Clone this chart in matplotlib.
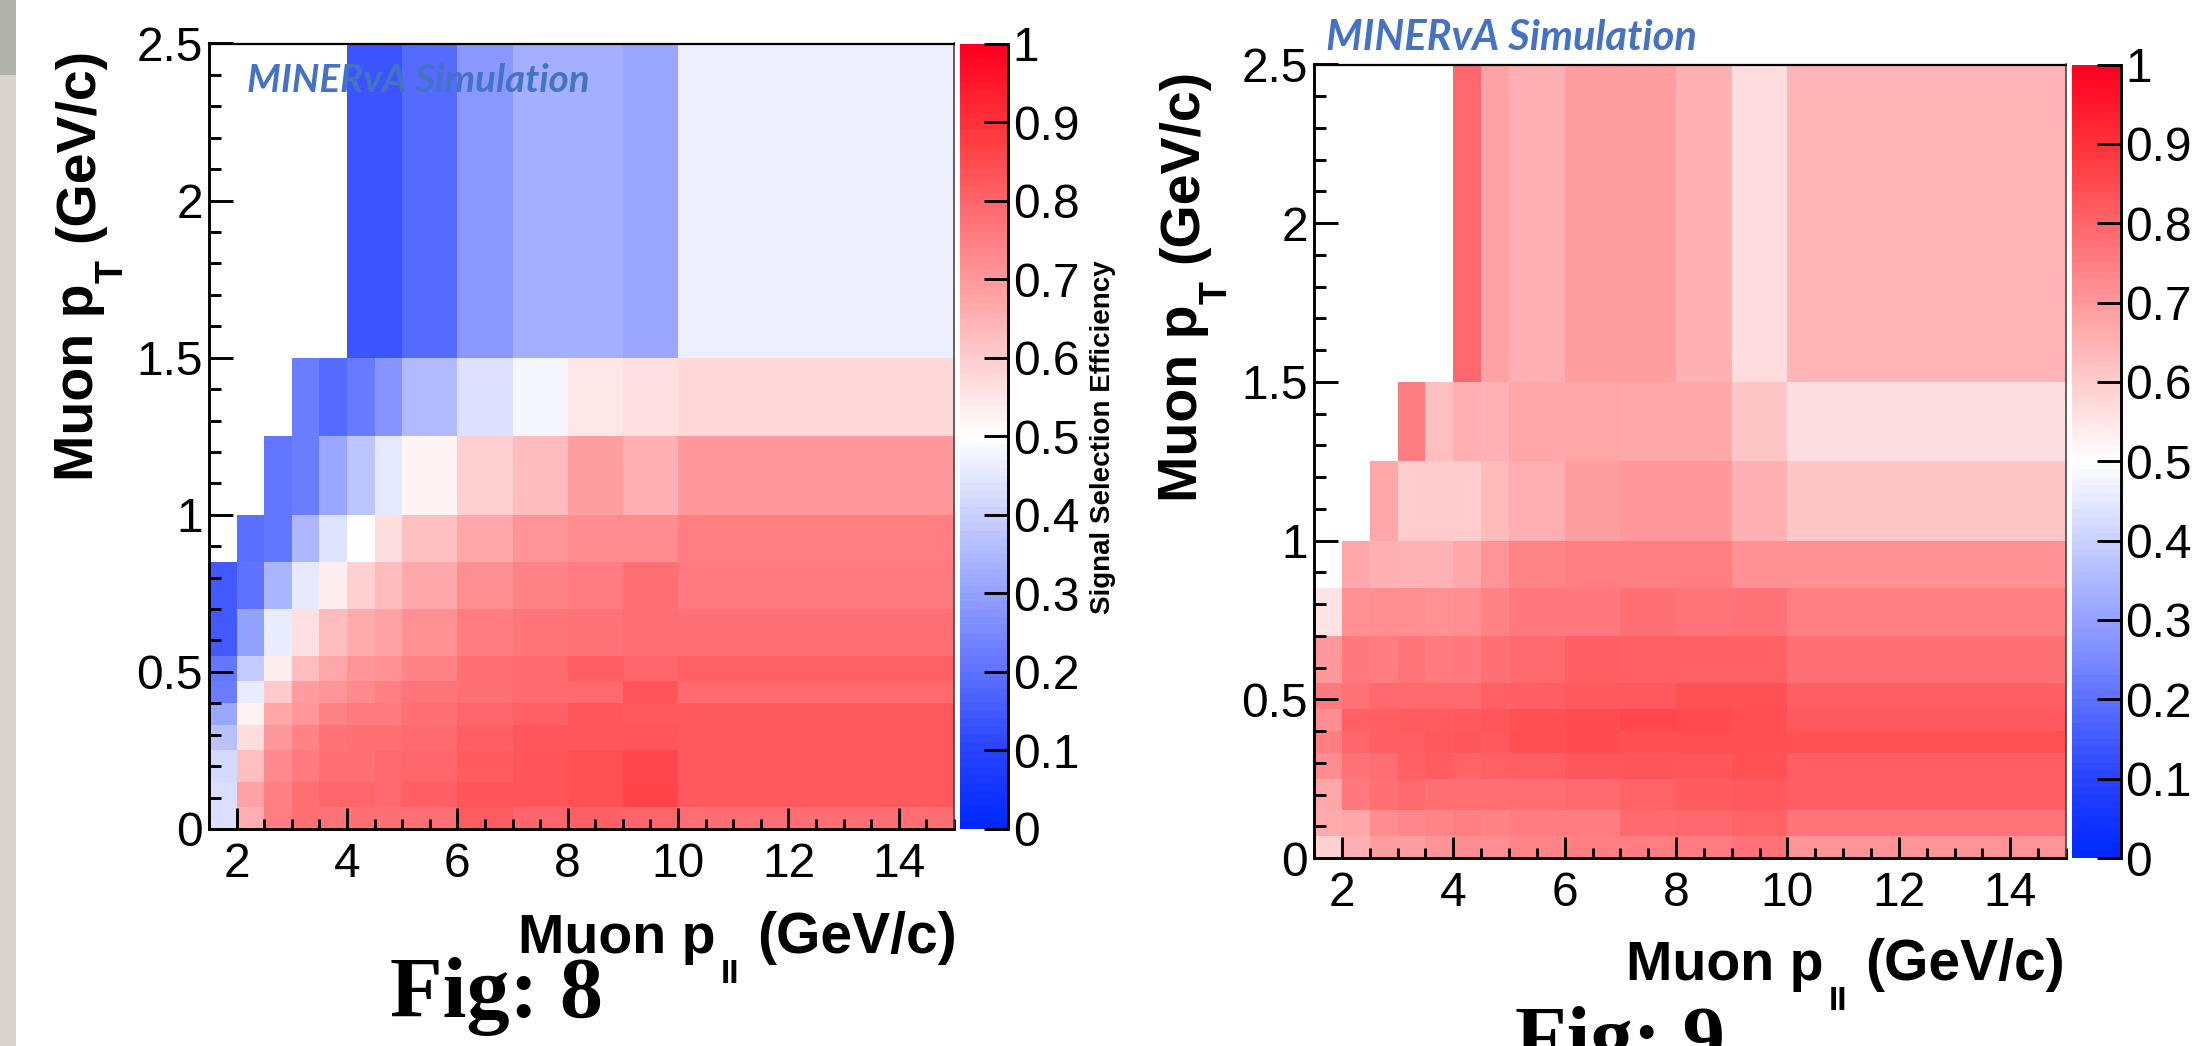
import numpy as np
import matplotlib
matplotlib.use("Agg")
import matplotlib.pyplot as plt
from matplotlib.colors import LinearSegmentedColormap, Normalize
from matplotlib.cm import ScalarMappable
from matplotlib.patches import Rectangle
from matplotlib.ticker import MultipleLocator

W, H = 2202, 1046
plt.rcParams['font.family'] = ['Liberation Sans', 'DejaVu Sans']

n = np.nan
x_edges = [1.5, 2, 2.5, 3, 3.5, 4, 4.5, 5, 6, 7, 8, 9, 10, 15]
y_edges = [0, 0.07, 0.15, 0.25, 0.33, 0.4, 0.47, 0.55, 0.7, 0.85, 1, 1.25, 1.5, 2.5]

eff_fig8 = [
    [.43, .66, .75, .78, .775, .78, .78, .78, .82, .80, .81, .80, .785],
    [.43, .68, .75, .785, .80, .80, .79, .815, .835, .835, .84, .865, .825],
    [.42, .625, .73, .76, .78, .78, .79, .80, .82, .835, .84, .86, .825],
    [.37, .57, .70, .745, .775, .78, .78, .79, .815, .83, .83, .83, .825],
    [.31, .525, .675, .705, .745, .76, .76, .78, .80, .81, .83, .825, .825],
    [.22, .46, .605, .695, .71, .73, .75, .77, .78, .79, .79, .835, .79],
    [.21, .39, .535, .63, .675, .71, .715, .745, .78, .79, .815, .80, .81],
    [.145, .30, .46, .56, .63, .665, .68, .715, .755, .77, .775, .785, .78],
    [.145, .20, .34, .455, .535, .59, .63, .67, .72, .745, .755, .78, .76],
    [n, .195, .21, .345, .44, .50, .565, .625, .67, .71, .725, .725, .75],
    [n, n, .21, .22, .31, .375, .45, .52, .595, .63, .69, .655, .70],
    [n, n, n, .22, .18, .215, .27, .355, .435, .48, .55, .56, .575],
    [n, n, n, n, n, .135, .135, .18, .28, .33, .33, .31, .465],
]
eff_fig9 = [
    [.59, .655, .69, .69, .71, .725, .72, .74, .75, .75, .755, .775, .71],
    [.665, .675, .725, .735, .74, .75, .745, .755, .755, .79, .795, .805, .77],
    [.675, .765, .78, .79, .78, .78, .78, .785, .79, .805, .82, .825, .815],
    [.725, .775, .785, .81, .82, .805, .81, .815, .83, .835, .83, .84, .815],
    [.75, .80, .815, .815, .825, .83, .825, .845, .85, .845, .845, .845, .84],
    [.72, .81, .815, .82, .82, .825, .83, .84, .85, .86, .855, .845, .825],
    [.76, .775, .795, .79, .79, .79, .81, .815, .825, .825, .84, .84, .815],
    [.70, .765, .755, .77, .76, .765, .78, .79, .815, .81, .81, .81, .78],
    [.555, .715, .72, .72, .715, .72, .745, .765, .765, .78, .77, .775, .75],
    [n, .67, .655, .65, .65, .67, .71, .74, .75, .75, .75, .715, .715],
    [n, n, .67, .60, .60, .60, .635, .66, .69, .70, .70, .655, .61],
    [n, n, n, .755, .625, .66, .65, .675, .675, .67, .67, .61, .565],
    [n, n, n, n, n, .795, .68, .655, .69, .69, .655, .57, .645],
]
x_major = [2, 4, 6, 8, 10, 12, 14]
y_major = [0, 0.5, 1, 1.5, 2, 2.5]
y_major_labels = ['0', '0.5', '1', '1.5', '2', '2.5']
cbar_ticks = [0, .1, .2, .3, .4, .5, .6, .7, .8, .9, 1]
cbar_labels = ['0', '0.1', '0.2', '0.3', '0.4', '0.5', '0.6', '0.7', '0.8', '0.9', '1']

anchors = [(0, '#0028ff'), (0.1, '#2a44ff'), (0.5, '#ffffff'), (0.9, '#ff333a'), (1, '#ff0020')]
cmap = LinearSegmentedColormap.from_list('rwb', anchors, N=256)
cmap_bar = LinearSegmentedColormap.from_list('rwb_bar', anchors, N=100)
norm = Normalize(0, 1)

fig = plt.figure(figsize=(W / 100, H / 100), dpi=100, facecolor='white')


def rect(x0, y0, x1, y1):
    return [x0 / W, 1 - y1 / H, (x1 - x0) / W, (y1 - y0) / H]


def ftext(x, y, s, **kw):
    return fig.text(x / W, 1 - y / H, s, **kw)


fig.add_artist(Rectangle((0, 0), 16 / W, 1, transform=fig.transFigure,
                         fc='#d9d5ce', ec='none'))
fig.add_artist(Rectangle((0, 1 - 75 / H), 16 / W, 75 / H, transform=fig.transFigure,
                         fc='#b1b2aa', ec='none'))

TICK_FS = 34.5
LW = 2.1


def panel(box, cbox, data):
    ax = fig.add_axes(rect(*box))
    ax.pcolormesh(x_edges, y_edges, np.ma.masked_invalid(np.array(data)),
                  cmap=cmap, norm=norm, linewidth=0, antialiased=False)
    ax.set_xlim(1.5, 15)
    ax.set_ylim(0, 2.5)
    ax.set_xticks(x_major)
    ax.set_yticks(y_major, y_major_labels)
    ax.xaxis.set_minor_locator(MultipleLocator(0.5))
    ax.yaxis.set_minor_locator(MultipleLocator(0.1))
    ax.tick_params(axis='x', which='major', direction='in', length=15, width=LW,
                   labelsize=TICK_FS, pad=9.5)
    ax.tick_params(axis='x', which='minor', direction='in', length=7.5, width=LW)
    ax.tick_params(axis='y', which='major', direction='in', length=17, width=LW,
                   labelsize=TICK_FS, pad=4.5)
    ax.tick_params(axis='y', which='minor', direction='in', length=8.5, width=LW)
    for s in ('left', 'bottom'):
        ax.spines[s].set_linewidth(LW)
    ax.spines['top'].set_linewidth(1.6)
    ax.spines['right'].set_linewidth(1.2)
    ax.spines['right'].set_color('#444444')

    cax = fig.add_axes(rect(*cbox))
    cb = fig.colorbar(ScalarMappable(norm=norm, cmap=cmap_bar), cax=cax)
    cb.outline.set_visible(False)
    cb.set_ticks(cbar_ticks, labels=cbar_labels)
    cb.minorticks_off()
    cax.tick_params(axis='y', direction='in', length=17, width=LW, labelsize=TICK_FS, pad=3.5)
    cax.spines['right'].set_visible(True)
    cax.spines['right'].set_linewidth(LW)
    return ax


panel((209, 43.5, 954, 829), (960, 43.5, 1008, 829), eff_fig8)
panel((1314, 64.5, 2066, 858), (2072, 64.5, 2120.5, 858), eff_fig9)

LABEL_FS = 40
BOLD = dict(fontweight='bold', rotation_mode='anchor')


def ylabel(dx, dy):
    # three pieces so that the subscript sits as low as in the original
    ftext(93 + dx, 481 + dy, 'Muon p', rotation=90, fontsize=LABEL_FS,
          ha='left', va='baseline', **BOLD)
    ftext(123 + dx, 283 + dy, 'T', rotation=90, fontsize=27,
          ha='left', va='baseline', **BOLD)
    ftext(93 + dx, 242 + dy, '(GeV/c)', rotation=90, fontsize=LABEL_FS,
          ha='left', va='baseline', **BOLD)


def xlabel(dx, dy):
    ftext(518 + dx, 953 + dy, 'Muon p', fontsize=LABEL_FS, ha='left', va='baseline', **BOLD)
    ftext(721 + dx, 983 + dy, 'II', fontsize=24, ha='left', va='baseline', **BOLD)
    ftext(757 + dx, 953 + dy, '(GeV/c)', fontsize=41, ha='left', va='baseline', **BOLD)


ylabel(0, 0)
ylabel(1104, 21)
xlabel(0, 0)
xlabel(1108, 27)

ftext(390, 1017, 'Fig: 8', fontsize=62, fontweight='bold',
      family=['Liberation Serif'], ha='left', va='baseline')
ftext(1515, 1065, 'Fig: 9', fontsize=61, fontweight='bold',
      family=['Liberation Serif'], ha='left', va='baseline')

for x, y, fs in ((247, 92, 27.7), (1326, 50, 30)):
    ftext(x, y, 'MINERvA Simulation', fontsize=fs, fontweight='bold', fontstyle='italic',
          family=['Lato'], color='#4472c4', ha='left', va='baseline', zorder=10)

ftext(1103, 437, 'Signal Selection Efficiency', rotation=90, fontsize=20,
      fontweight='bold', ha='center', va='center')
ftext(2217, 440, 'Signal Selection Efficiency', rotation=90, fontsize=20,
      fontweight='bold', ha='center', va='center')

fig.savefig('out.png', dpi=100)
